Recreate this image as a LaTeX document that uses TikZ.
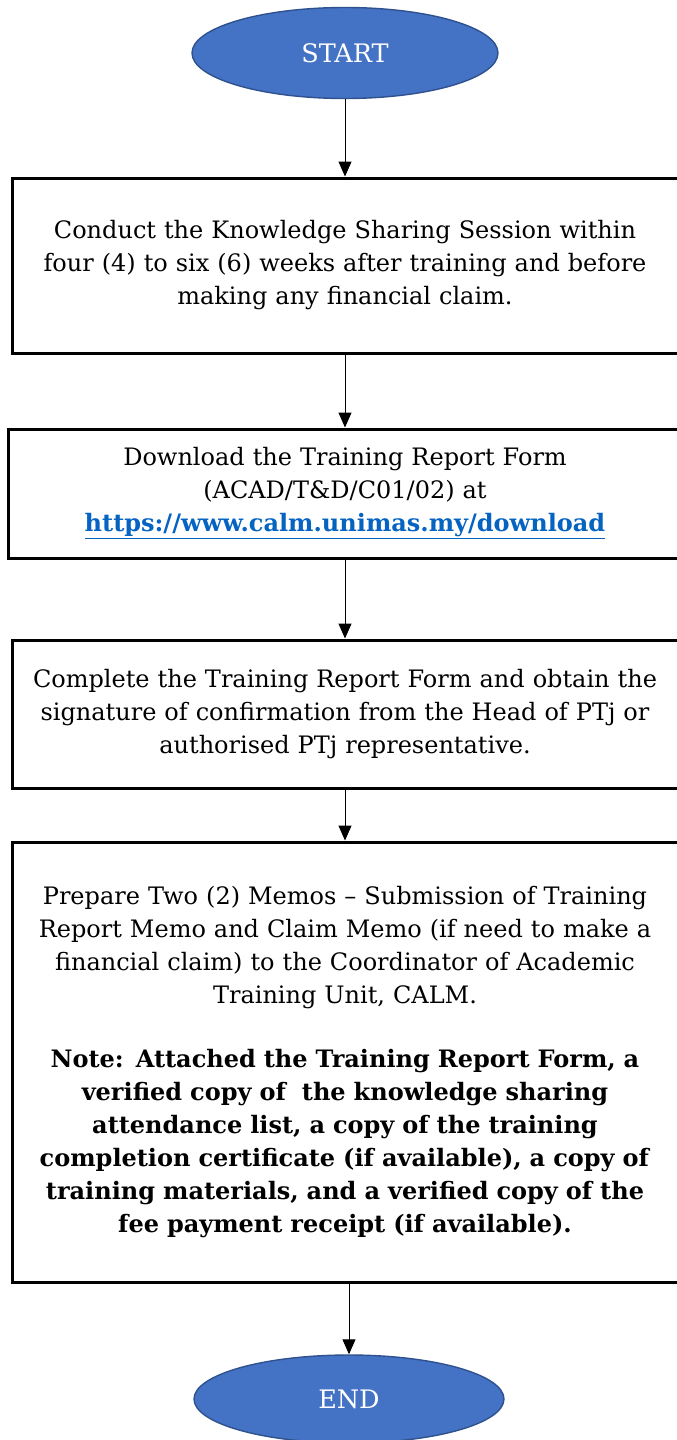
\documentclass[tikz,border=0pt]{standalone}
\usepackage{fontspec}
\setmainfont{DejaVu Serif}
\usetikzlibrary{shapes.geometric,arrows.meta}
\definecolor{ovfill}{HTML}{4472C4}
\definecolor{ovline}{HTML}{2F528F}
\definecolor{linkblue}{HTML}{0563C1}
\tikzset{
  oval/.style={ellipse, fill=ovfill, draw=ovline, line width=1.4pt, text=white, inner sep=0pt, font=\fontsize{25.5}{30}\selectfont},
  stepbox/.style={rectangle, draw=black, line width=3pt, align=center, inner sep=0pt, text width=660pt},
  arr/.style={-{Triangle[length=15pt,width=13pt]}, line width=1pt},
  txt/.style={font=\fontsize{24}{33}\selectfont}
}
\begin{document}
\begin{tikzpicture}[x=1pt,y=-1pt]
\useasboundingbox (0,0) rectangle (677,1440);
\node[oval, minimum width=306pt, minimum height=91pt] (start) at (345,53) {START};
\node[stepbox, minimum width=666pt, minimum height=175pt, txt] (b1) at (345,265.5)
 {Conduct the Knowledge Sharing Session within\\four (4) to six (6) weeks after training and before\\making any financial claim.};
\node[stepbox, minimum width=674pt, minimum height=129pt, txt] (b2) at (345,493.5)
 {Download the Training Report Form\\(ACAD/T\&D/C01/02) at\\\textcolor{linkblue}{\textbf{\underline{https://www.calm.unimas.my/download}}}};
\node[stepbox, minimum width=666pt, minimum height=148pt, txt] (b3) at (345,714)
 {Complete the Training Report Form and obtain the\\signature of confirmation from the Head of PTj or\\authorised PTj representative.};
\node[stepbox, minimum width=666pt, minimum height=440pt, txt] (b4) at (345,1062)
 {Prepare Two (2) Memos -- Submission of Training\\Report Memo and Claim Memo (if need to make a\\financial claim) to the Coordinator of Academic\\Training Unit, CALM.\\[31pt]
 \textbf{Note: Attached the Training Report Form, a}\\\textbf{verified copy of\ \ the knowledge sharing}\\\textbf{attendance list, a copy of the training}\\\textbf{completion certificate (if available), a copy of}\\\textbf{training materials, and a verified copy of the}\\\textbf{fee payment receipt (if available).}};
\node[oval, minimum width=310pt, minimum height=88pt] (end) at (349,1399) {END};
\draw[arr] (start.south) -- (start.south |- b1.north);
\draw[arr] (b1.south) -- (b1.south |- b2.north);
\draw[arr] (b2.south) -- (b2.south |- b3.north);
\draw[arr] (b3.south) -- (b3.south |- b4.north);
\draw[arr] (b4.south -| end.north) -- (end.north);
\end{tikzpicture}
\end{document}
